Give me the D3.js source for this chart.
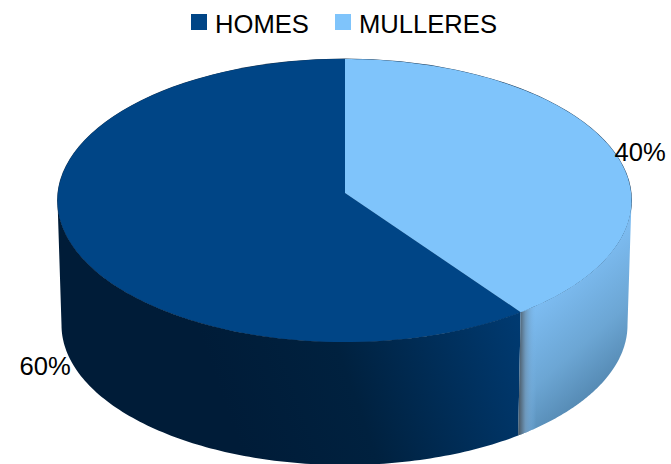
<!DOCTYPE html>
<html>
<head>
<meta charset="utf-8">
<script src="https://cdn.jsdelivr.net/npm/d3@7"></script>
<style>
  html, body { margin: 0; padding: 0; background: #fff; }
  svg { display: block; }
  text { font-family: "Liberation Sans", Arial, sans-serif; fill: #000; }
</style>
</head>
<body>
<div id="chart-area"></div>
<script>
const categories = ['HOMES', 'MULLERES'];
const shares = [60, 40];
const sliceColors = ['#004586', '#7fc4fb'];

const width = 671, height = 464;

// top face and the bottom rim of the cylinder, the bottom is a bit narrower (perspective)
const topRim = { cx: 344.5, cy: 200.5, rx: 287, ry: 141.5 };
const bottomRim = { cx: 344.5, cy: 325, rx: 283, ry: 140 };
const hub = { x: 345, y: 193 };

let svg = d3.select('#chart-area').append('svg')
  .attr('width', width)
  .attr('height', height);

let color = d3.scaleOrdinal().domain(categories).range(sliceColors);

let pie = d3.pie()
  .sort(null)
  .startAngle(Math.PI * 0.8)
  .endAngle(Math.PI * 2.8);
let arcs = pie(shares);

// ray from the hub at the given pie angle, cut with the top ellipse -> ellipse parameter
function rimParam(a) {
  let ox = (hub.x - topRim.cx) / topRim.rx, oy = (hub.y - topRim.cy) / topRim.ry;
  let dx = Math.sin(a), dy = -Math.cos(a);
  let b = ox * dx + oy * dy;
  let t = -b + Math.sqrt(b * b - (ox * ox + oy * oy - 1));
  return Math.atan2(ox + t * dx, -(oy + t * dy));
}
// phi = 0 is the back of the ellipse, running clockwise
function rimPoint(e, phi) {
  return [e.cx + e.rx * Math.sin(phi), e.cy - e.ry * Math.cos(phi)];
}
function unwrap(from, to) {
  while (to < from) to += Math.PI * 2;
  return [from, to];
}
function sweep(from, to) {
  return d3.range(0, 121).map(i => from + (to - from) * i / 120);
}

let line = d3.line();
let defs = svg.append('defs');

function gradient(id, x1, y1, x2, y2, stops) {
  let g = defs.append('linearGradient').attr('id', id)
    .attr('gradientUnits', 'userSpaceOnUse')
    .attr('x1', x1).attr('y1', y1).attr('x2', x2).attr('y2', y2);
  g.selectAll('stop').data(stops).enter().append('stop')
    .attr('offset', d => d[0])
    .attr('stop-color', d => d[1]);
}
gradient('side-dark', 230, 420, 525, 315, [[0, '#001c38'], [0.4, '#00213f'], [1, '#003b73']]);
gradient('side-light', 530, 315, 605, 400, [[0, '#7cbbf0'], [0.5, '#6ca6d4'], [1, '#4f82aa']]);
gradient('side-edge', 518, 0, 536, 0, [[0, '#46525c'], [0.4, '#6d97ba'], [1, 'rgba(122,184,236,0)']]);

// sides, only the visible front half
let boundary = rimParam(arcs[0].startAngle);
let sideSpans = [
  { id: 'side-dark', from: boundary, to: Math.PI * 1.5 },
  { id: 'side-light', from: Math.PI / 2, to: boundary }
];
function sidePath(s) {
  let phis = sweep(s.from, s.to);
  let pts = phis.map(p => rimPoint(topRim, p))
    .concat(phis.slice().reverse().map(p => rimPoint(bottomRim, p)));
  return line(pts) + 'Z';
}
// thin dark edge seen around the back of the top face
svg.append('ellipse')
  .attr('cx', topRim.cx).attr('cy', topRim.cy)
  .attr('rx', topRim.rx + 0.4).attr('ry', topRim.ry + 0.4)
  .attr('fill', '#14324f');

svg.selectAll('.side')
  .data(sideSpans)
  .enter()
  .append('path')
  .attr('class', 'side')
  .attr('d', sidePath)
  .attr('fill', d => `url(#${d.id})`);
svg.append('path')
  .attr('d', sidePath(sideSpans[1]))
  .attr('fill', 'url(#side-edge)');

// top face
svg.selectAll('.slice')
  .data(arcs)
  .enter()
  .append('path')
  .attr('class', 'slice')
  .attr('d', function (d) {
    let [from, to] = unwrap(rimParam(d.startAngle), rimParam(d.endAngle));
    return line([[hub.x, hub.y]].concat(sweep(from, to).map(p => rimPoint(topRim, p)))) + 'Z';
  })
  .attr('fill', (d, i) => color(categories[i]));

// legend
let legendX = d3.scaleOrdinal().domain(categories).range([191, 335]);
let legend = svg.selectAll('.legend')
  .data(categories)
  .enter()
  .append('g')
  .attr('class', 'legend')
  .attr('transform', d => `translate(${legendX(d)}, 14)`);
legend.append('rect')
  .attr('width', 16)
  .attr('height', 16)
  .attr('fill', d => color(d));
legend.append('text')
  .attr('x', 24)
  .attr('y', 18.5)
  .attr('font-size', 25.6)
  .text(d => d);

// value labels
let labelX = d3.scaleOrdinal().domain(categories).range([19.5, 614.5]);
let labelY = d3.scaleOrdinal().domain(categories).range([375, 161]);
svg.selectAll('.value')
  .data(categories)
  .enter()
  .append('text')
  .attr('class', 'value')
  .attr('x', d => labelX(d))
  .attr('y', d => labelY(d))
  .attr('font-size', 25.6)
  .text((d, i) => shares[i] + '%');
</script>
</body>
</html>
